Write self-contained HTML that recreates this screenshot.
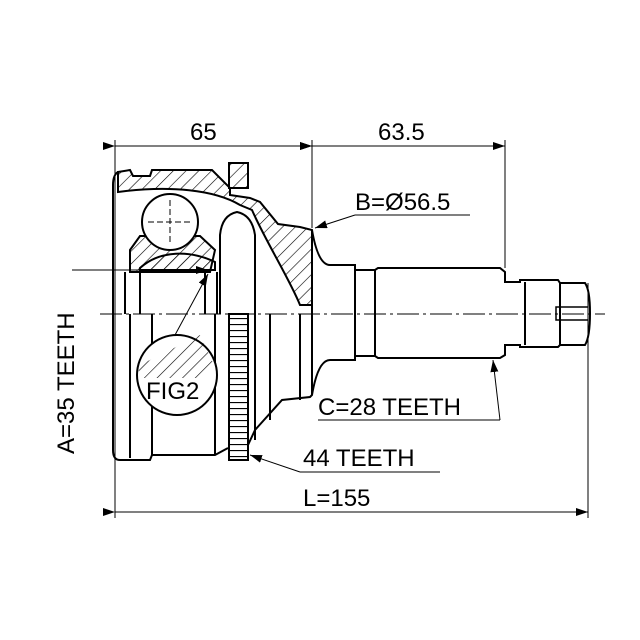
<!DOCTYPE html>
<html><head><style>body{margin:0;background:#fff}svg{display:block}text{font-family:"Liberation Sans",Arial,sans-serif;font-size:24px;fill:#000}</style></head>
<body>
<svg width="640" height="640" viewBox="0 0 640 640" xmlns="http://www.w3.org/2000/svg">
<defs>
<pattern id="h" width="9" height="9" patternUnits="userSpaceOnUse" patternTransform="rotate(45)"><line x1="0" y1="0" x2="0" y2="9" stroke="#000" stroke-width="1.2"/></pattern>
<pattern id="t" width="19" height="6" patternUnits="userSpaceOnUse"><line x1="0" y1="0.5" x2="19" y2="0.5" stroke="#000" stroke-width="1.2"/></pattern>
<marker id="a" markerWidth="12" markerHeight="8" refX="12" refY="4" orient="auto" markerUnits="userSpaceOnUse"><path d="M0,0 L12,4 L0,8 z"/></marker>
</defs>
<g stroke="#000" fill="none" stroke-width="1">
<line x1="115" y1="140" x2="115" y2="518"/>
<line x1="312" y1="140" x2="312" y2="228"/>
<line x1="505" y1="140" x2="505" y2="268"/>
<line x1="588" y1="283" x2="588" y2="518"/>
<line x1="115" y1="146" x2="312" y2="146" marker-start="url(#a)" marker-end="url(#a)"/>
<line x1="312" y1="146" x2="505" y2="146" marker-start="url(#a)" marker-end="url(#a)"/>
<line x1="115" y1="512" x2="588" y2="512" marker-start="url(#a)" marker-end="url(#a)"/>
<line x1="100" y1="314" x2="605" y2="314" stroke-dasharray="22,4,3,4"/>
</g>
<g stroke="#000" stroke-width="2" fill="url(#h)">
<path d="M118,172 L130,170 L133,176 L150,176 L152,170 L212,170 L230,188 L230,195 L250,198 L260,202 L278,224 L300,227 L312,230 L312,305 L300,305 C290,280 265,240 252,210 L240,205 C215,190 170,185 118,192 Z"/>
<path d="M130,250 L140,236 L200,236 L215,250 L210,272 L130,272 Z"/>
<path d="M140,268 C160,250 190,250 215,262 L215,270 L140,270 Z"/>
<rect x="229" y="163" width="19" height="25"/>
</g>
<g stroke="#000" stroke-width="2" fill="none">
<path d="M118,172 Q113,175 113,185 L113,450 Q113,460 120,460 L150,460 L152,455 L215,455 L228,448"/>
<path d="M248,445 L255,430 L282,400 L310,397 L312,395 L312,305"/>
<line x1="130" y1="314" x2="130" y2="458"/>
<line x1="152" y1="314" x2="152" y2="455"/>
<line x1="215" y1="314" x2="215" y2="455"/>
<line x1="125" y1="272" x2="125" y2="314"/>
<line x1="140" y1="272" x2="140" y2="314"/>
<line x1="205" y1="272" x2="205" y2="314"/>
<line x1="217" y1="272" x2="217" y2="314"/>
<path d="M220,314 L220,235 Q222,215 237,212 Q252,215 255,235 L255,314"/>
<line x1="255" y1="314" x2="255" y2="440"/>
<line x1="270" y1="314" x2="270" y2="420"/>
<line x1="300" y1="314" x2="300" y2="400"/>
<rect x="229" y="314" width="19" height="146" fill="url(#t)" stroke-width="2"/>
<circle cx="170" cy="222" r="28" fill="#fff"/>
<circle cx="177" cy="375" r="40" fill="#fff"/>
<path d="M312,230 Q318,265 330,265 L355,265 L355,270 L375,270 L378,268 L500,268 L505,272 L505,282 L520,282 L520,280 L558,280 L560,283 L585,283 Q590,290 590,313 Q590,337 585,345 L560,345 L558,347 L520,347 L520,345 L505,345 L505,355 L500,358 L378,358 L375,356 L355,356 L355,360 L330,360 Q318,360 312,395"/>
<line x1="375" y1="270" x2="375" y2="356"/>
<line x1="355" y1="270" x2="355" y2="356"/>
<line x1="560" y1="283" x2="560" y2="345"/>
<line x1="525" y1="282" x2="525" y2="345"/>
<path d="M588,307 L556,307 L556,320 L588,320" stroke-width="1.5"/>
</g>
<g stroke="#000" stroke-width="1">
<line x1="170" y1="200" x2="170" y2="244" stroke-dasharray="6,3"/>
<line x1="148" y1="222" x2="192" y2="222" stroke-dasharray="6,3"/>
<path d="M140,365 L200,335 L214,365 L205,370 L205,378 L137,378 Z" fill="url(#h)" stroke="none"/>
<line x1="72" y1="270" x2="208" y2="270" marker-end="url(#a)"/>
<line x1="175" y1="335" x2="208" y2="274" marker-end="url(#a)"/>
<line x1="355" y1="215" x2="315" y2="228" marker-end="url(#a)"/>
<line x1="355" y1="215" x2="470" y2="215"/>
<line x1="500" y1="420" x2="493" y2="360" marker-end="url(#a)"/>
<line x1="318" y1="420" x2="500" y2="420"/>
<line x1="300" y1="472" x2="250" y2="455" marker-end="url(#a)"/>
<line x1="300" y1="472" x2="440" y2="472"/>
</g>
<text x="190" y="140">65</text>
<text x="378" y="140">63.5</text>
<text x="355" y="210">B=Ø56.5</text>
<text x="318" y="415">C=28 TEETH</text>
<text x="303" y="466">44 TEETH</text>
<text x="303" y="506">L=155</text>
<text x="146" y="399">FIG2</text>
<text transform="translate(74,454) rotate(-90)">A=35 TEETH</text>
</svg>
</body></html>
